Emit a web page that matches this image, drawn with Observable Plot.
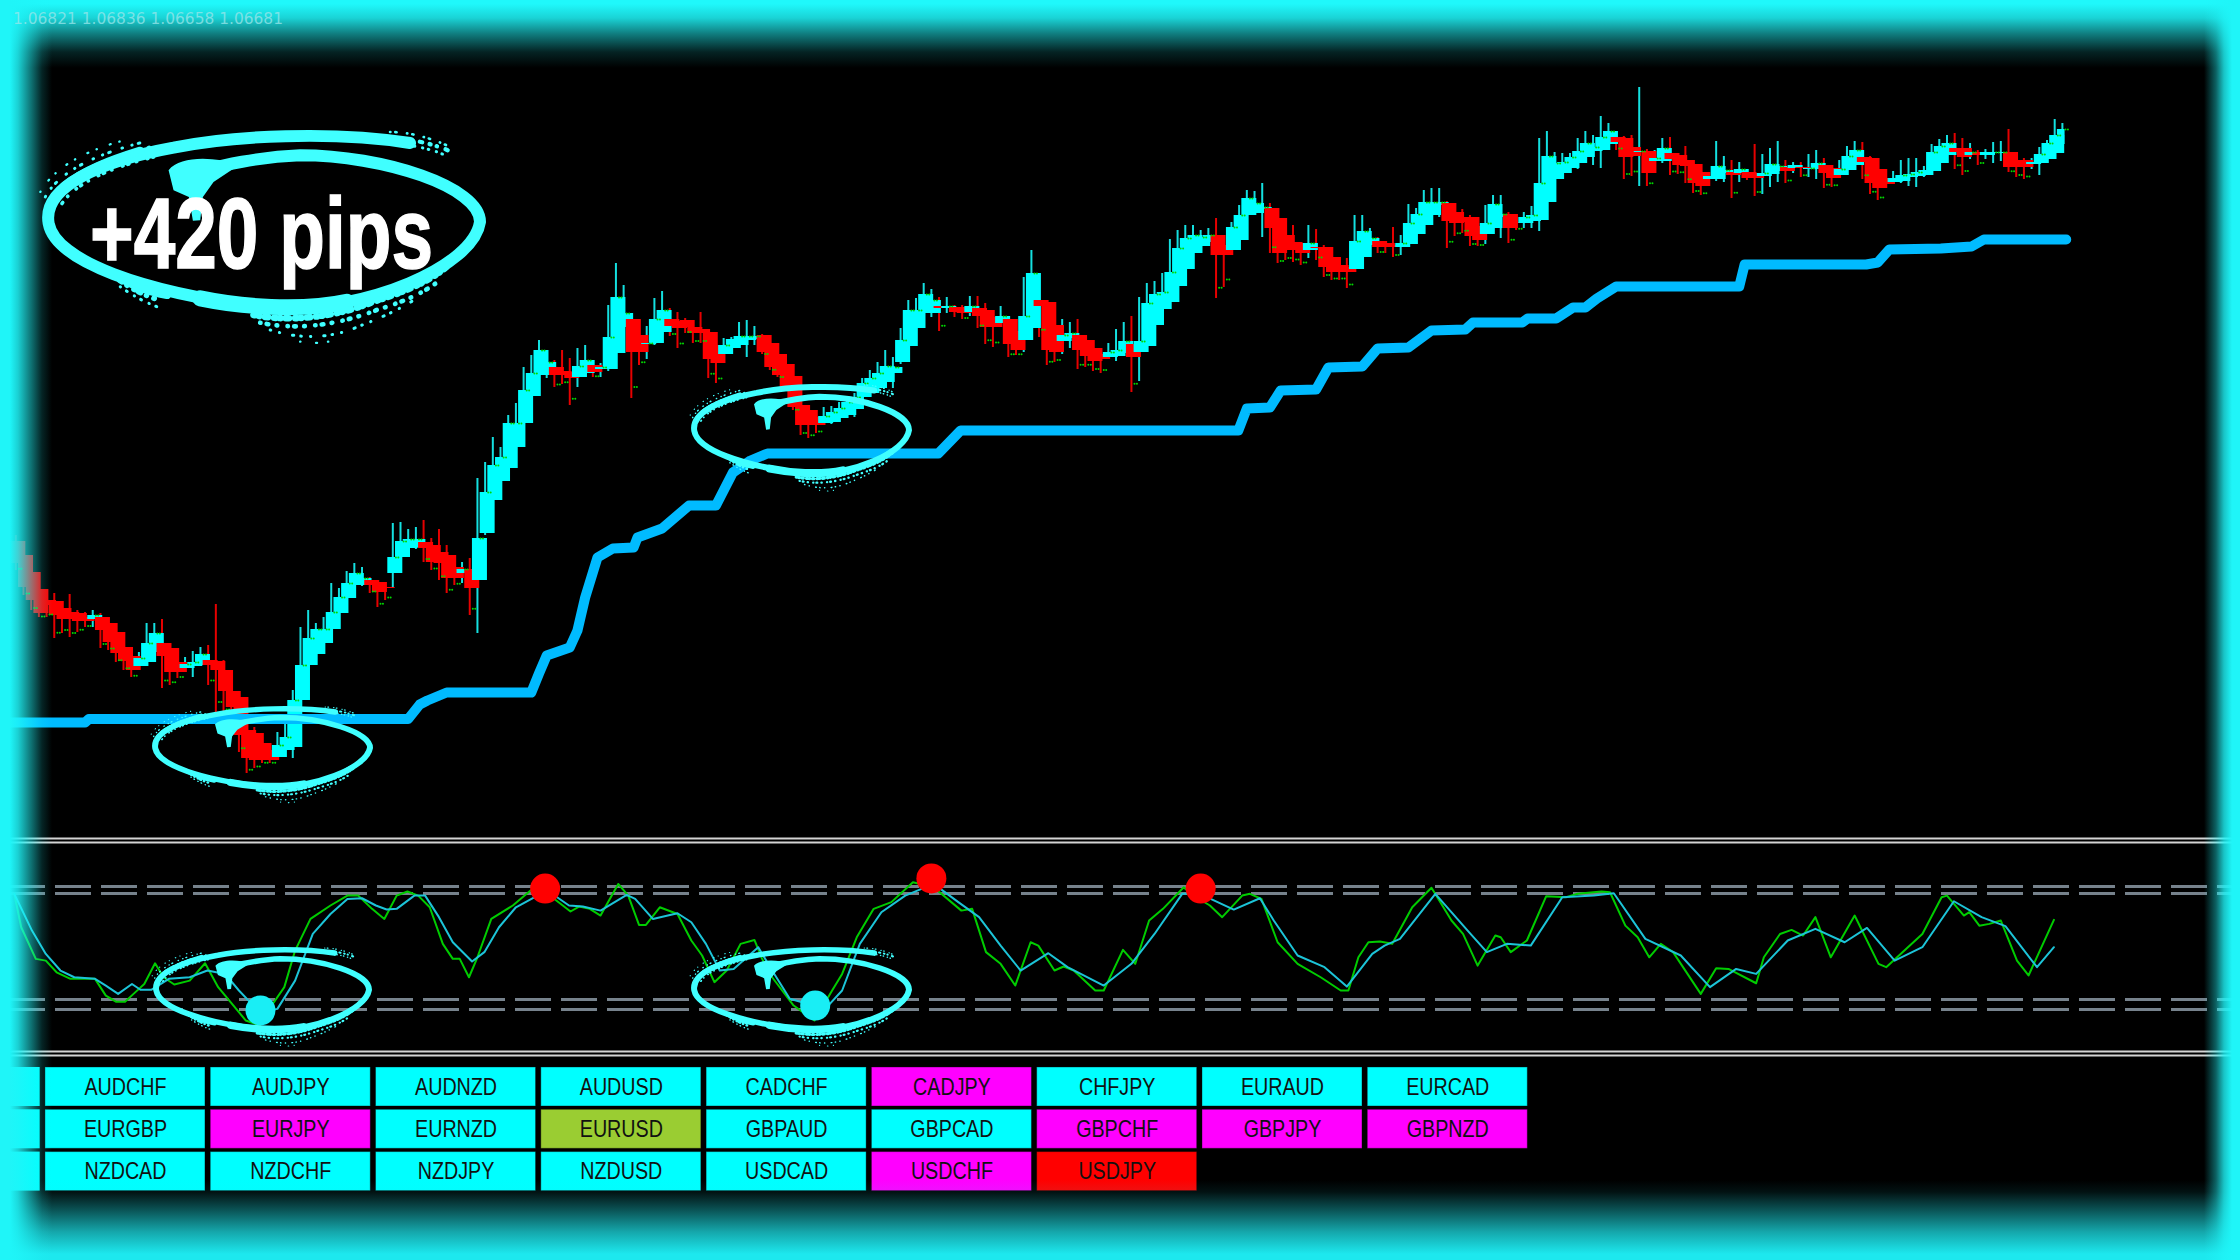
<!DOCTYPE html>
<html>
<head>
<meta charset="utf-8">
<script src="https://cdn.jsdelivr.net/npm/d3@7"></script>
<script src="https://cdn.jsdelivr.net/npm/@observablehq/plot@0.6"></script>
<style>
html,body{margin:0;padding:0;background:#000;overflow:hidden}
#stage{position:relative;width:2240px;height:1260px;background:#000;overflow:hidden}
.layer{position:absolute;left:0}
.layer svg{display:block;background:transparent}
.glow{position:absolute;pointer-events:none}
#overlay{position:absolute;left:0;top:0;overflow:visible}
</style>
</head>
<body>
<div id="stage">
  <div class="layer" id="price" style="top:0"></div>
  <div class="layer" id="stoch" style="top:835px"></div>
  <div class="layer" id="buttons" style="top:1060px"></div>
  <svg id="overlay" width="2240" height="1260" viewBox="0 0 2240 1260">
    <defs>
      <symbol id="brush" viewBox="125 395 1333 550" preserveAspectRatio="none" style="overflow:visible">
        <g fill="none" stroke="#40ffff" stroke-linecap="round" stroke-linejoin="round">
          <path stroke-width="36" d="M1230,428 C1000,392 700,405 520,442 C300,482 125,560 145,670 C165,780 420,880 820,925 C1100,935 1420,800 1440,665 C1440,560 1150,465 900,465 C760,470 650,500 560,522"/>
          <path stroke-width="48" d="M600,895 C720,920 900,935 1040,905"/>
          <path stroke-width="24" d="M330,815 C380,850 440,875 500,885"/>
          <path stroke-width="22" d="M1060,905 C1170,880 1270,835 1330,790"/>
          <path stroke-width="26" d="M190,560 C250,510 330,480 420,452"/>
          <!-- ink splatter round the brush stroke -->
          <g id="spA">
            <path stroke-width="14" stroke-dasharray="1 17 6 26 2 21 10 31" d="M150,600 C190,530 300,480 450,442"/>
            <path stroke-width="9" stroke-dasharray="2 29 1 19 5 37" d="M135,590 C175,515 285,462 430,425"/>
            <path stroke-width="11" stroke-dasharray="4 23 1 33 2 15" d="M185,610 C225,550 320,505 460,470"/>
            <path stroke-width="7" stroke-dasharray="1 41 3 27" d="M120,575 C165,495 270,445 380,418"/>
          </g>
          <g>
            <path stroke-width="13" stroke-dasharray="3 19 1 27 7 23" d="M1130,418 C1200,408 1290,425 1355,455"/>
            <path stroke-width="8" stroke-dasharray="1 15 4 31" d="M1170,395 C1230,395 1300,415 1350,440"/>
            <path stroke-width="9" stroke-dasharray="2 23 1 17" d="M1200,430 C1260,440 1310,450 1345,470"/>
          </g>
          <g>
            <path stroke-width="16" stroke-dasharray="2 14 7 19 1 23" d="M345,832 C390,865 430,885 475,900"/>
            <path stroke-width="9" stroke-dasharray="1 21 3 25" d="M360,860 C395,885 430,905 470,920"/>
          </g>
          <g>
            <path stroke-width="20" stroke-dasharray="4 13 1 17 9 19" d="M760,945 C860,965 1000,955 1120,905 C1200,880 1280,850 1340,800"/>
            <path stroke-width="14" stroke-dasharray="1 19 5 25 2 31" d="M780,968 C880,990 1000,980 1130,930 C1210,905 1270,880 1320,840"/>
            <path stroke-width="9" stroke-dasharray="2 27 1 39 4 21" d="M810,990 C880,1012 960,1020 1050,990 C1110,965 1180,940 1250,895"/>
            <path stroke-width="7" stroke-dasharray="1 47 3 33" d="M900,1025 C940,1032 980,1030 1020,1015"/>
          </g>
        </g>
        <path fill="#40ffff" d="M505,510 C540,465 640,470 720,492 L640,545 L608,590 L600,660 L578,662 L566,590 L520,570 Z"/>
      </symbol>
    </defs>
    <use href="#brush" x="152" y="707" width="221" height="83"/>
    <use href="#brush" x="691" y="385" width="221" height="92"/>
    <use href="#brush" x="153" y="948" width="219" height="85"/>
    <use href="#brush" x="691" y="948" width="221" height="85"/>
    <use href="#brush" x="42" y="132" width="444" height="183"/>
    <text x="90" y="268" font-family="'Liberation Sans',sans-serif" font-weight="700" font-size="100" fill="#fff" stroke="#fff" stroke-width="1.5" textLength="343" lengthAdjust="spacingAndGlyphs">+420 pips</text>
  </svg>
  <div class="glow" style="left:0;top:1180px;width:2240px;height:80px;background:linear-gradient(to top,rgba(29,232,238,1) 0,rgba(29,232,238,1) 6px,rgba(29,232,238,.72) 28px,rgba(29,232,238,.36) 50px,rgba(29,232,238,.08) 68px,rgba(29,232,238,0) 80px)"></div>
  <div class="glow" style="left:0;top:0;width:2240px;height:75px;background:linear-gradient(to bottom,rgba(31,248,251,1) 0,rgba(31,248,251,1) 4px,rgba(31,248,251,.85) 18px,rgba(31,248,251,.5) 34px,rgba(31,248,251,.14) 52px,rgba(31,248,251,0) 68px)"></div>
  <div class="glow" style="left:0;top:0;width:60px;height:1260px;background:linear-gradient(to right,rgba(31,245,248,1) 0,rgba(31,245,248,1) 10px,rgba(31,245,248,.85) 18px,rgba(31,245,248,.5) 30px,rgba(31,245,248,.15) 42px,rgba(31,245,248,0) 52px)"></div>
  <div class="glow" style="right:0;top:0;width:40px;height:1260px;background:linear-gradient(to left,rgba(31,245,248,1) 0,rgba(31,245,248,1) 8px,rgba(31,245,248,.8) 16px,rgba(31,245,248,.4) 24px,rgba(31,245,248,0) 36px)"></div>
  <svg style="position:absolute;left:0;top:0" width="320" height="40"><text x="13" y="24" font-family="'DejaVu Sans',sans-serif" font-size="15" fill="#9ae6ea" fill-opacity=".75" textLength="270" lengthAdjust="spacingAndGlyphs">1.06821 1.06836 1.06658 1.06681</text></svg>
</div>
<script>
// Candles: one entry per bar, in points on the chart's price axis
const opens = [259,245,228,211,200,199,192,188,187,183,181,183,177,168,153,144,134,138,148,157,152,138,132,134,135,140,139,130,109,103,70,67,57,50,43,50,53,100,135,146,157,171,187,202,215,215,220,218,213,227,243,252,253,258,255,248,245,233,227,231,220,267,300,319,332,353,377,404,425,425,433,429,428,423,427,435,431,431,447,473,481,465,456,457,468,481,479,480,473,471,468,455,446,452,455,460,461,465,457,446,436,424,395,390,383,377,378,382,385,391,403,407,412,418,427,438,454,472,487,487,494,492,493,493,488,492,490,483,477,481,469,460,472,500,498,475,459,462,465,460,452,446,443,444,447,456,448,454,475,491,498,514,531,547,554,558,565,555,550,560,585,587,591,592,582,565,558,557,550,553,553,543,535,533,531,543,555,559,557,555,553,556,566,575,585,595,597,588,583,583,574,566,572,583,586,578,577,579,580,598,621,627,632,637,643,649,650,656,663,662,653,648,649,639,639,647,645,640,636,628,621,621,627,628,627,628,627,624,626,629,633,632,633,631,631,635,632,625,630,635,643,642,631,622,618,619,623,624,625,629,637,645,652,652,645,648,645,647,647,648,640,640,636,637,641,647,656];
const closes = [237,213,200,187,195,185,181,181,179,179,185,170,158,147,139,130,142,157,167,144,128,128,136,138,146,135,130,109,93,65,42,40,40,40,55,63,100,135,162,171,171,188,203,217,227,222,215,208,212,243,259,261,261,252,238,237,222,222,231,212,262,308,335,343,377,377,410,427,450,438,425,425,422,434,440,428,433,463,503,487,448,448,457,481,490,474,472,473,467,467,441,437,455,461,464,464,464,448,433,425,413,393,375,375,375,384,388,392,398,403,417,422,427,434,433,460,490,490,506,500,492,494,488,487,494,484,473,473,484,456,450,484,527,494,450,448,465,467,450,444,439,441,448,450,459,443,459,497,506,508,528,552,562,565,563,565,545,545,573,585,602,597,593,572,547,550,550,547,557,552,533,528,528,528,559,569,562,553,553,553,557,577,586,598,598,598,579,577,578,564,560,577,596,586,572,577,583,585,617,644,637,638,643,649,657,653,663,669,658,643,644,649,627,642,652,641,635,634,617,614,624,634,630,625,631,622,622,627,636,634,629,635,632,632,637,627,622,631,644,650,638,617,612,616,622,625,626,628,630,648,654,657,648,643,648,645,648,648,648,633,633,633,638,646,657,665,671];
const highs = [265,255,235,215,211,207,197,206,190,188,190,187,180,170,155,146,148,177,177,181,157,140,143,149,153,155,196,140,115,105,73,73,65,55,68,77,110,173,190,177,183,217,212,229,237,233,223,220,218,277,278,271,273,280,262,271,255,240,238,242,322,338,363,353,385,397,433,445,460,450,440,450,442,452,455,438,437,495,537,515,485,475,474,502,509,492,488,482,474,488,470,457,462,463,478,480,474,466,460,448,438,425,397,392,385,393,394,398,403,407,422,430,438,450,443,472,500,502,517,511,503,503,495,495,504,504,497,490,494,483,471,523,550,527,500,477,481,478,481,465,454,452,457,471,478,484,503,517,519,527,561,570,575,575,570,572,582,557,578,595,610,609,617,597,584,567,575,558,575,571,555,545,537,542,585,585,572,563,559,573,565,596,592,610,612,612,599,593,591,585,576,595,605,605,588,584,588,594,662,669,648,647,647,662,669,665,684,677,665,664,665,713,651,650,662,663,647,654,638,630,628,659,644,640,638,630,656,646,652,659,640,638,638,646,650,642,634,640,654,659,658,644,633,624,629,640,642,642,634,656,661,665,667,662,657,650,651,658,659,671,642,642,642,653,660,681,677];
const lows = [230,205,190,183,183,162,167,163,168,173,173,152,150,138,130,123,132,136,147,112,115,122,128,123,134,115,88,85,75,48,27,32,37,37,40,48,42,98,133,145,155,172,186,200,214,214,207,193,200,212,241,250,251,238,230,220,207,215,217,185,167,265,298,317,332,351,380,402,424,422,413,416,395,413,425,423,423,429,445,471,402,435,441,455,466,464,452,467,457,457,422,417,444,450,454,443,455,446,430,423,411,390,365,362,367,375,376,381,383,383,401,405,410,416,412,436,452,470,485,483,469,487,483,481,484,472,456,453,473,443,445,448,470,463,435,438,446,452,431,433,429,427,441,439,445,408,419,452,473,479,496,512,530,545,552,556,502,513,548,558,585,585,563,547,537,540,538,535,542,540,523,520,520,512,529,541,552,547,547,543,545,554,564,573,583,583,552,564,567,554,554,556,570,562,557,570,572,572,569,596,619,625,630,631,641,635,632,654,650,621,624,614,614,631,637,625,626,617,607,605,619,619,618,602,618,620,604,606,613,618,617,627,623,623,621,612,613,622,628,633,621,606,600,612,616,617,614,613,623,627,635,643,631,625,641,635,641,637,639,628,623,621,631,625,639,645,654];

// Slow trend line: bar number and level of each of its corners
const trendBars = [-1,9,9.5,51,52.5,53.5,56,67,68,69,72,73,74,75.6,77.6,80.3,80.8,84,87.5,91,93.2,95.5,97.7,119.9,122.8,158.9,160,163,164.4,169,170.6,175,177,181,184,188.4,189.4,195.8,196.5,200.2,202.4,204,205.5,208,224,224.7,240.5,242,243.5,250.2,254.2,255.8,266.5];
const trendLevels = [78,78,81.5,81.5,96,100,108,108,127,145,153,170,203,243,252,253,263,272,295,295,328,340,347,347,370,370,392,393,410,411,433,434,452,453,470,471,478,478,482,482,493,493,502,514,514,536,536,538,551,552,554,561,561];

// Stochastic oscillator: corners of the two lines (bar number, value)
const kBars = [-0.2,0.7,2.6,3.9,5.3,7.1,10.3,11.7,13,14.2,15.3,16.7,18.1,19.2,20.6,22.6,24.6,26.3,29.9,31.7,33.1,34.9,36.3,38.3,40.9,43.1,44.5,46.3,47.9,49.5,50.9,52.3,53.8,55.5,56.8,57.7,58.9,60,61.8,64.6,66.9,68.7,70,72.1,73.2,74.6,76,78.3,79.6,81,81.9,83.7,86,87.8,89.2,90.8,92.4,94.2,96,97,98.3,101.1,103.8,106.1,107.4,109.3,111.5,113.8,116.6,119.3,122.9,124.3,126.1,128,129.9,131.9,132.9,135,136.2,137.5,140.3,141.4,143.9,145.5,147.3,149.1,151.8,152.7,155.2,156.8,159.4,160.4,161.9,164,166.6,169.6,172.2,173.2,174.5,175.8,177.3,178.9,181.5,184,186.6,188.1,190,192.3,193,194.3,196.4,198.9,201.5,203,206.1,207.2,209.2,210.8,212.3,213.8,215.4,219,221,222.6,226.2,227.2,229.3,230.8,232.3,233.9,235.9,239,242.1,243.1,247.8,250.3,251,253.2,253.9,255.2,256.5,258,260.1,261.6,264.9];
const kValues = [79.8,60.9,43,42,35.4,31.7,31.7,22.2,18.8,18.8,23.2,28.8,40.5,32.6,28.5,30.7,40.5,27,8.1,5.3,15.6,27,47.7,65.6,73.2,78.8,78.8,71.3,65.6,78.8,81.1,78.8,72.2,51.5,43,43,32.6,43.9,65.6,73.2,81.7,80.7,76.9,69.8,72.6,71.3,67.5,85.4,78.8,62.2,62.2,72.2,68.4,53.4,44.9,29.8,36.4,51.5,53.7,43,32.6,16.6,8.1,25.1,34.5,55.2,71.3,75.1,86.4,83.5,70.3,71.3,46.8,40.2,27.9,52.4,50.5,36.4,38.7,36.4,25.1,25.1,48.1,40.2,64.7,71.3,83.5,79.8,73.2,66.6,78.8,79.8,76.9,52.4,40.2,32.6,25.1,25.1,43.9,52.4,52.8,51.5,72.2,83.2,64.7,57.1,39.2,56.2,55.2,46.8,53.4,78.4,77.9,79.8,81.1,80.7,61.8,55.2,43.9,51.5,46.8,23.2,37.7,37.3,29.2,43.9,57.1,59.4,56.2,66.6,43.9,67.5,40.2,38.3,57.1,77.9,78.8,67.5,69.4,61.8,62.8,64.7,42,33.6,65.1];
const dBars = [-0.2,2.1,3.9,5.8,7.6,10.3,11.7,13.3,15.1,16.2,17.6,19.9,22.6,24.9,27.2,29,31.7,34,36.3,38.6,40.9,43.1,45,46.8,48.2,49.5,51.8,53.2,55,56.8,59.3,60.9,62.8,65,67.8,69.6,71.9,73.7,76,79.4,80.5,82.8,86,87.8,89.7,91.5,93.3,96.5,98.3,100.6,105.2,107.4,109.7,112.5,115.6,119.3,122.5,125.2,128,130.6,134.2,136.7,141.4,145,148,151.6,153.9,158.3,161.7,163.5,166.6,170.1,173,176.3,177.9,179.9,184.5,188.7,191.2,193.8,196.9,201,205.1,207.7,211.8,216.4,220.2,223.6,226.2,230.3,233.9,237.7,240.6,244.2,247.8,251.9,255.5,258.6,262.7,264.9];
const dValues = [79.8,59,45.8,36.4,32.6,31.7,27.9,23.2,28.8,25.5,25.5,31.7,32.6,36.4,34.5,25.1,12.8,14.7,30.7,57.1,68.4,76.9,77.3,73.2,70.9,71.3,78.8,78.8,66.6,52.4,41.5,46.8,60.9,72.2,78.8,80.1,73.2,72.6,70.3,79.2,76.9,65.6,68.8,63.7,51.5,36.4,37.3,49.6,36.4,20.4,14.7,25.1,51.5,69.4,78.8,85.4,75.1,66.6,50.5,36.4,46.2,38.3,27.9,40.2,57.1,79.8,79.8,70.9,77.3,64.7,44.9,38.3,27.3,45.8,50.5,54.3,79.8,59,46.8,51.5,50.5,77.9,78.8,80.1,54.3,44.9,27,37.3,34.5,53.4,60,52.4,60.5,42,49.6,75.6,66.6,61.5,38.3,49.6];
const levelLines = [84,80,20,14.3];
const panelEdges = [111.1,108.9,-9.4,-11.7];
const overboughtBars = [68.8,119,154];
const overboughtValues = [82.8,88.5,82.8];
const oversoldBars = [31.8,103.9];
const oversoldValues = [13.8,16.6];

// Symbol buttons
const symbols = ["AUDCHF","AUDJPY","AUDNZD","AUDUSD","CADCHF","CADJPY","CHFJPY","EURAUD","EURCAD","EURGBP","EURJPY","EURNZD","EURUSD","GBPAUD","GBPCAD","GBPCHF","GBPJPY","GBPNZD","NZDCAD","NZDCHF","NZDJPY","NZDUSD","USDCAD","USDCHF","USDJPY"];
const magentaSymbols = ["CADJPY","EURJPY","GBPCHF","GBPJPY","GBPNZD","USDCHF"];
const oliveSymbols = ["EURUSD"];
const redSymbols = ["USDJPY"];
const buttonRows = 3;
const perRow = 9;

const CYAN = "#00ffff", RED = "#ff0000";
const barDomain = [-1.989, 289.15];
const lastBar = opens.length - 1;
const bars = opens.map((o, i) => ({i, open: o, close: closes[i], high: highs[i], low: lows[i], up: closes[i] > o}));
const markers = bars.filter(d => d.high - d.low >= 14).map(d => ({
  i: d.i,
  y: d.up ? d.close : d.low + (Math.min(d.open, d.close) - d.low) * 0.25
}));
const trend = trendBars.map((b, k) => ({b, v: trendLevels[k]}));

const pricePlot = Plot.plot({
  width: 2240, height: 835, margin: 0,
  style: {background: "transparent"},
  x: {domain: barDomain, range: [0, 2240], axis: null},
  y: {domain: [-35, 800], range: [835, 0], axis: null},
  marks: [
    Plot.ruleX(bars, {x: "i", y1: "low", y2: "high", stroke: d => d.up ? "#14e0e0" : "#e60000", strokeWidth: 2}),
    Plot.rect(bars, {x1: d => d.i - 0.65, x2: d => Math.min(d.i + 1.3, lastBar + 0.35), y1: "open", y2: "close", fill: d => d.up ? CYAN : RED}),
    Plot.dot(markers, {x: d => d.i + 0.4, y: "y", r: 1, fill: "#00d800"}),
    Plot.dot(markers, {x: d => d.i + 0.72, y: "y", r: 1, fill: "#00d800"}),
    Plot.line(trend, {x: "b", y: "v", stroke: "#00bbff", strokeWidth: 10, strokeLinejoin: "round", strokeLinecap: "round"})
  ]
});
document.getElementById("price").append(pricePlot);

const kLine = kBars.map((b, k) => ({b, v: kValues[k]}));
const dLine = dBars.map((b, k) => ({b, v: dValues[k]}));
const hot = overboughtBars.map((b, k) => ({b, v: overboughtValues[k]}));
const cold = oversoldBars.map((b, k) => ({b, v: oversoldValues[k]}));

const stochPlot = Plot.plot({
  width: 2240, height: 225, margin: 0,
  style: {background: "transparent"},
  x: {domain: barDomain, range: [0, 2240], axis: null},
  y: {domain: [-14.5, 112.8], range: [225, 0], axis: null},
  marks: [
    Plot.ruleY(panelEdges, {stroke: "#d4d4d4", strokeWidth: 2}),
    Plot.ruleY(levelLines, {stroke: "#76828c", strokeWidth: 3, strokeDasharray: "36 10", strokeDashoffset: 37}),
    Plot.line(kLine, {x: "b", y: "v", stroke: "#00cc00", strokeWidth: 2}),
    Plot.line(dLine, {x: "b", y: "v", stroke: "#1cc4d8", strokeWidth: 2}),
    Plot.dot(hot, {x: "b", y: "v", r: 15, fill: RED}),
    Plot.dot(cold, {x: "b", y: "v", r: 15, fill: "#19eef5"})
  ]
});
document.getElementById("stoch").append(stochPlot);

const buttons = symbols.map((s, k) => ({
  s, c: k % perRow, r: Math.floor(k / perRow),
  fill: magentaSymbols.includes(s) ? "#ff00ff" : oliveSymbols.includes(s) ? "#9acd32" : redSymbols.includes(s) ? RED : CYAN
}));
const cutOff = d3.range(buttonRows).map(r => ({c: -1, r}));

const buttonPlot = Plot.plot({
  width: 2240, height: 140, margin: 0,
  style: {background: "transparent"},
  x: {domain: [-0.272, 13.28], range: [0, 2240], axis: null},
  y: {domain: [-0.165, 3.144], range: [0, 140], axis: null},
  marks: [
    Plot.rect(cutOff, {x1: "c", x2: d => d.c + 0.968, y1: "r", y2: d => d.r + 0.922, fill: CYAN}),
    Plot.rect(buttons, {x1: "c", x2: d => d.c + 0.968, y1: "r", y2: d => d.r + 0.922, fill: "fill", stroke: "#000", strokeOpacity: 0.35, strokeWidth: 1}),
    Plot.text(buttons, {x: d => d.c + 0.484, y: d => d.r + 0.461, text: "s", fill: "#111", fontSize: 24, fontFamily: "'Liberation Sans',sans-serif"})
  ]
});
document.getElementById("buttons").append(buttonPlot);
// The terminal's button font is narrower than any installed face: squeeze the glyphs
d3.select(buttonPlot).selectAll("text").each(function () {
  this.setAttribute("textLength", (this.getComputedTextLength() * 0.82).toFixed(1));
  this.setAttribute("lengthAdjust", "spacingAndGlyphs");
});
</script>
</body>
</html>
